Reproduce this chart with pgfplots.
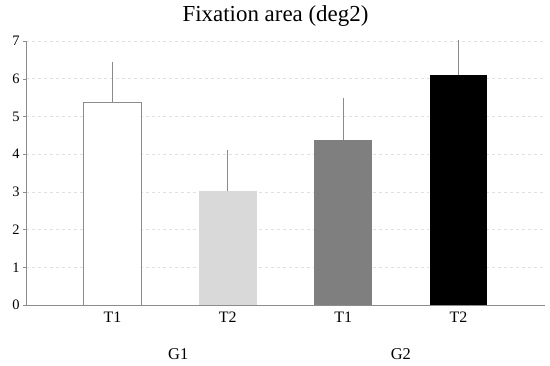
\documentclass[border=0pt]{standalone}
\usepackage{pgfplots}
\pgfplotsset{compat=1.18}
\usepackage{fontspec}
\setmainfont{Liberation Serif}
\definecolor{axgray}{HTML}{8C8C8C}
\definecolor{errgray}{HTML}{8A8A8A}
\definecolor{lgray}{HTML}{D9D9D9}
\definecolor{mgray}{HTML}{7F7F7F}
\begin{document}
\begin{tikzpicture}
\begin{axis}[
  scale only axis,
  clip mode=individual,
  width=519bp, height=264bp,
  xmin=-0.75, xmax=3.75,
  ymin=0, ymax=7,
  ytick={0,1,...,7},
  xtick={0,1,2,3},
  xticklabels={T1,T2,T1,T2},
  axis x line*=bottom,
  axis y line*=left,
  axis line style={axgray, line width=0.8pt},
  x axis line style={-},
  y axis line style={-},
  ymajorgrids,
  grid style={dashed, black!12, line width=0.5pt},
  major x tick style={draw=none},
  major y tick style={axgray},
  tick align=outside,
  major tick length=3bp,
  yticklabel style={font=\fontsize{14.5}{16}\selectfont},
  xticklabel style={font=\fontsize{16}{18}\selectfont},
  /pgf/number format/assume math mode=true,
  ybar, bar width=0.5, bar shift=0pt,
  error bars/y dir=plus,
  error bars/y explicit,
  error bars/error mark=none,
  error bars/error bar style={errgray, line width=0.8pt},
]
\addplot[draw=axgray, fill=white, line width=0.8pt] coordinates {(0,5.36) +- (0,1.09)};
\addplot[draw=none, fill=lgray] coordinates {(1,3.01) +- (0,1.11)};
\addplot[draw=none, fill=mgray] coordinates {(2,4.38) +- (0,1.12)};
\addplot[draw=none, fill=black] coordinates {(3,6.09) +- (0,1.2)};
\node[font=\fontsize{16.5}{18}\selectfont] at (axis cs:0.57,0) [yshift=-49bp] {G1};
\node[font=\fontsize{16.5}{18}\selectfont] at (axis cs:2.50,0) [yshift=-49bp] {G2};
\end{axis}
\node[font=\fontsize{23}{26}\selectfont] at ([xshift=-10bp, yshift=25bp]current axis.north) {Fixation area (deg2)};
\pgfresetboundingbox
\path (current axis.south west) ++(-26bp,-61bp) rectangle ++(550bp,366bp);
\end{tikzpicture}
\end{document}
